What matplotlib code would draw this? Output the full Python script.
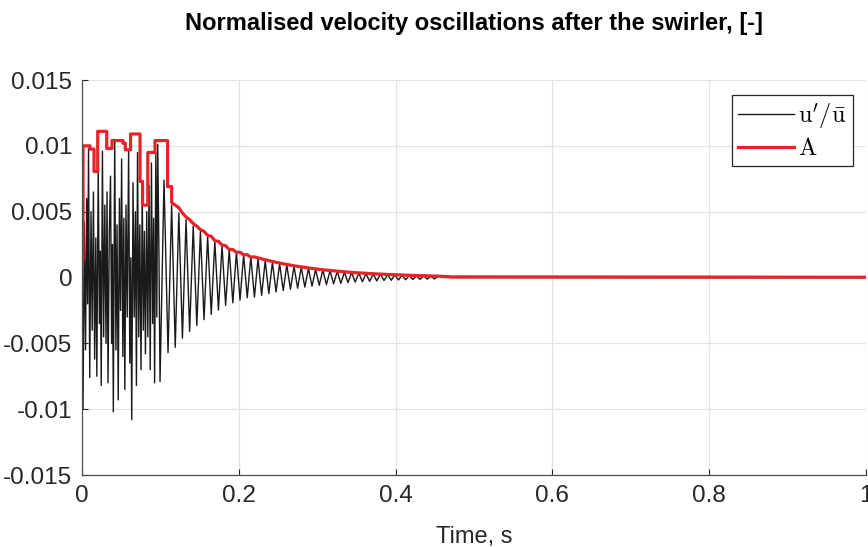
import numpy as np
import matplotlib
matplotlib.use("Agg")
import matplotlib.pyplot as plt

plt.rcParams["font.family"] = ["Liberation Sans", "DejaVu Sans"]
plt.rcParams["axes.unicode_minus"] = False
plt.rcParams["mathtext.fontset"] = "cm"

# irregular start of u'/u_mean (time in s, value in 1e-3)
t_early = [0.0, 0.00128, 0.00293, 0.00446, 0.00599, 0.00714, 0.00829, 0.00982,
           0.01148, 0.01301, 0.01454, 0.01607, 0.01760, 0.01888, 0.02066, 0.02219,
           0.02334, 0.02449, 0.02602, 0.02755, 0.02908, 0.03061, 0.03189, 0.03316,
           0.03482, 0.03635, 0.03776, 0.03878, 0.03992, 0.04171, 0.04324, 0.04464,
           0.04617, 0.04770, 0.04911, 0.05051, 0.05204, 0.05332, 0.05459, 0.05612,
           0.05765, 0.05944, 0.06097, 0.06224, 0.06339, 0.06505, 0.06658, 0.06811,
           0.06939, 0.07079, 0.07232, 0.07372, 0.07526, 0.07679, 0.07819, 0.07959,
           0.08087, 0.08253, 0.08393, 0.08546, 0.08699, 0.08852, 0.09005, 0.09133,
           0.09260, 0.09413, 0.09541, 0.09656, 0.09809, 0.09949, 0.10459]
u_early = [0.0, -10.0, 4.2, -5.5, 6.0, -2.0, 9.8, -7.6,
           5.0, -4.0, 6.5, -6.2, 3.0, -7.5, 8.4, -3.5,
           2.0, -8.2, 9.6, -4.5, 5.5, -5.0, 6.5, -8.0,
           3.5, 7.7, -5.0, 2.5, -10.2, 10.5, -5.5, 4.0,
           -9.3, 6.0, -2.5, 9.0, -6.0, 4.5, -8.5, 5.5,
           -3.0, 9.7, -6.5, 1.5, -10.8, 7.2, -3.0, 5.0,
           -8.2, 9.5, -4.5, 4.0, -7.0, 6.8, -4.0, 3.5,
           -5.8, 5.0, -4.5, 7.0, -7.0, 8.7, -3.5, 4.5,
           -8.0, 9.5, -3.0, 10.1, 2.0, -7.9, 7.4]

# decaying part: successive extrema, one every half period (value in 1e-3)
t_decay_start = 0.1097
half_period = 0.004592
u_decay = [-5.7, 5.5, -5.3, 4.9, -4.6, 4.4, -4.1, 3.9, -3.64, 3.5,
           -3.2, 3.13, -2.8, 2.75, -2.47, 2.42, -2.12, 2.12, -1.92, 1.92,
           -1.72, 1.74, -1.54, 1.57, -1.49, 1.42, -1.35, 1.28, -1.22, 1.16,
           -1.10, 1.04, -0.99, 0.94, -0.89, 0.85, -0.81, 0.77, -0.73, 0.69,
           -0.66, 0.62, -0.59, 0.56, -0.54, 0.51, -0.48, 0.46, -0.44, 0.41,
           -0.39, 0.37, -0.35, 0.34, -0.32, 0.30, -0.29, 0.27, -0.26, 0.25,
           -0.23, 0.22, -0.21, 0.20, -0.19, 0.18, -0.17, 0.16, -0.15, 0.14,
           -0.14, 0.13, -0.12, 0.11, -0.11, 0.10]

# amplitude A, step levels at the start (value in 1e-3)
t_amp = [0.0, 0.00128, 0.0102, 0.0153, 0.0200, 0.0315, 0.0383, 0.0523,
         0.0552, 0.0619, 0.0740, 0.0772, 0.0839, 0.0931, 0.1091, 0.1143]
amp = [1.4, 10.0, 9.75, 8.05, 11.1, 9.8, 10.4, 10.2,
       9.7, 10.9, 7.3, 5.5, 9.5, 10.4, 6.9]

t_end = [0.47, 1.0]
amp_end = [0.05, 0.02]

t_decay = t_decay_start + half_period * np.arange(len(u_decay))
t_u = np.concatenate([t_early, t_decay, t_end])
u = np.concatenate([u_early, u_decay, [0.0, 0.0]]) * 1e-3

# steps for the start, then a line over the decaying peaks
t_steps = np.repeat(t_amp, 2)[1:-1]
a_steps = np.repeat(amp, 2)
t_a = np.concatenate([t_steps, t_decay[1:], t_end])
a = np.concatenate([a_steps, np.abs(u_decay[:-1]), amp_end]) * 1e-3

fig = plt.figure(figsize=(8.68, 5.47), dpi=100)
ax = fig.add_axes([0.0945, 0.1316, 0.9032, 0.7221])

ax.plot(t_u, u, color="#1a1a1a", lw=1.0, label=r"$\mathrm{u'/\bar{u}}$")
ax.plot(t_a, a, color="#e6222a", lw=2.3, label=r"$\mathrm{A}$")

ax.set_xlim(0, 1)
ax.set_ylim(-0.015, 0.015)
ax.set_xticks([0, 0.2, 0.4, 0.6, 0.8, 1.0])
ax.set_xticklabels(["0", "0.2", "0.4", "0.6", "0.8", "1"])
yt = [-0.015, -0.01, -0.005, 0, 0.005, 0.01, 0.015]
ax.set_yticks(yt)
ax.set_yticklabels(["-0.015", "-0.01", "-0.005", "0", "0.005", "0.01", "0.015"])
ax.tick_params(direction="in", length=4, width=0.8, labelsize=17.5,
               colors="#262626", pad=7)
ax.grid(True, color="#e3e3e3", lw=0.9)
ax.set_axisbelow(True)
for s in ["top", "right"]:
    ax.spines[s].set_visible(False)
for s in ["left", "bottom"]:
    ax.spines[s].set_color("#4d4d4d")
    ax.spines[s].set_linewidth(0.9)

ax.set_xlabel("Time, s", fontsize=17, color="#262626", labelpad=14)
fig.suptitle("Normalised velocity oscillations after the swirler, [-]",
             fontsize=17, fontweight="bold", x=0.546, y=0.978, color="#000000")

leg = ax.legend(loc="upper right", bbox_to_anchor=(0.983, 0.962), fontsize=17.5,
                handlelength=2.3, handletextpad=0.2, borderpad=0.25,
                labelspacing=0.3, fancybox=False, framealpha=1,
                borderaxespad=0)
leg.get_frame().set_edgecolor("#262626")
leg.get_frame().set_linewidth(0.9)

fig.savefig("out.png", dpi=100)
